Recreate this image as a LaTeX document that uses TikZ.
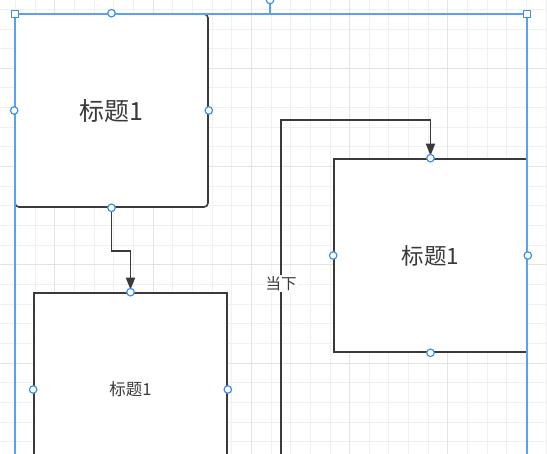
\documentclass[tikz,border=0pt]{standalone}
\usepackage{fontspec}
\usepackage{tikz}
\usetikzlibrary{arrows.meta,positioning}
\newfontfamily\cjk{Noto Sans CJK SC}
\definecolor{inkgray}{HTML}{3A3A3A}
\definecolor{selblue}{HTML}{5AA2F0}
\definecolor{handblue}{HTML}{3D8FEA}
\definecolor{gridminor}{HTML}{F0F0F0}
\definecolor{gridmajor}{HTML}{E3E3E3}
\tikzset{
  gridline/.style={gridminor,line width=0.9pt},
  gridbold/.style={gridmajor,line width=0.9pt},
  titlebox/.style={rectangle,draw=inkgray,fill=white,line width=1.6pt,minimum width=193pt,minimum height=193pt,inner sep=0pt,text=inkgray,font=\cjk},
  roundbox/.style={titlebox,rounded corners=4pt},
  conn/.style={-{Triangle[length=12pt,width=9pt]},line width=1.6pt,inkgray,shorten >=2.5pt},
  lbl/.style={fill=white,inner sep=1pt,text=inkgray,font=\cjk\fontsize{15.5}{15.5}\selectfont},
  selline/.style={selblue,line width=1.6pt},
  handle/.style={circle,draw=handblue,fill=white,line width=1.2pt,minimum size=7.5pt,inner sep=0pt},
  corner/.style={rectangle,draw=handblue,fill=white,line width=1.2pt,minimum size=7pt,inner sep=0pt},
}
\begin{document}
\begin{tikzpicture}[x=1pt,y=-1pt]
  \clip (0,0) rectangle (547,454);
  \fill[white] (0,0) rectangle (547,454);
  \foreach \i in {0,...,27} \draw[gridline] (15.4+19.66*\i,0) -- ++(0,454);
  \foreach \j in {0,...,23} \draw[gridline] (0,9.3+19.66*\j) -- ++(547,0);
  \foreach \i in {2,7,...,22} \draw[gridbold] (15.4+19.66*\i,0) -- ++(0,454);
  \foreach \j in {3,8,...,23} \draw[gridbold] (0,9.3+19.66*\j) -- ++(547,0);

  \node[roundbox,font=\cjk\fontsize{25}{25}\selectfont] (boxA) at (111.5,110.5) {标题1};
  \node[titlebox,font=\cjk\fontsize{16.5}{16.5}\selectfont] (boxB) at (130.5,389.5) {标题1};
  \node[titlebox,font=\cjk\fontsize{22.5}{22.5}\selectfont] (boxC) at (430.5,255.5) {标题1};

  \coordinate (srcNow) at (281,470);
  \coordinate (bendNow) at (281,120);
  \draw[conn] (boxA.south) -- ++(0,43) -| (boxB.north);
  \draw[conn] (srcNow) -- (bendNow) -| (boxC.north);
  \node[lbl] (lblNow) at (281,283.5) {当下};

  \coordinate (rotTop) at (270,0);
  \draw[selline] (15,14) rectangle (527,480);
  \draw[selline] (270,14) -- (rotTop);
  \node[handle] (hRot) at (rotTop) {};
  \node[corner] (cNW) at (15,14) {};
  \node[corner] (cNE) at (527,14) {};

  \node[handle] (hAn) at (boxA.north) {};
  \node[handle] (hAw) at (boxA.west) {};
  \node[handle] (hAe) at (boxA.east) {};
  \node[handle] (hAs) at (boxA.south) {};
  \node[handle] (hBn) at (boxB.north) {};
  \node[handle] (hBw) at (boxB.west) {};
  \node[handle] (hBe) at (boxB.east) {};
  \node[handle] (hCn) at (boxC.north) {};
  \node[handle] (hCw) at (boxC.west) {};
  \node[handle] (hCe) at (boxC.east) {};
  \node[handle] (hCs) at (boxC.south) {};
\end{tikzpicture}
\end{document}
